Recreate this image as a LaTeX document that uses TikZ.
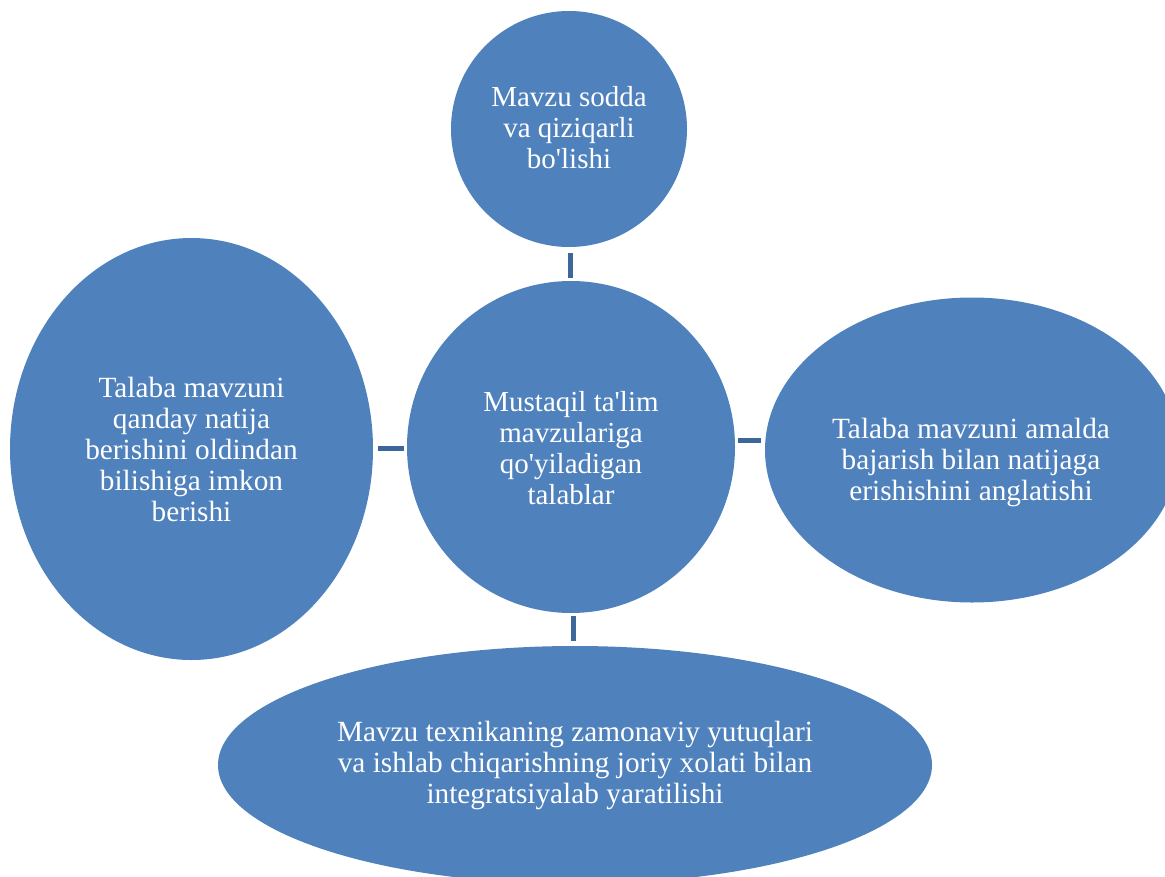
\documentclass[tikz,border=0pt]{standalone}
\usepackage{fontspec}
\setmainfont{Liberation Serif}
\usetikzlibrary{shapes.geometric,calc}
\definecolor{shapeblue}{HTML}{4F81BD}
\definecolor{linkblue}{HTML}{3D6699}
\newcommand{\apo}{\textquotesingle}
\tikzset{
  blob/.style={ellipse, fill=shapeblue, draw=none, inner sep=0pt},
  lbl/.style={text=white, align=center, font=\fontsize{29.3}{31}\selectfont, inner sep=0pt},
  lblsmall/.style={lbl, font=\fontsize{29}{31}\selectfont},
  link/.style={draw=linkblue, line width=5pt}
}
\begin{document}
\begin{tikzpicture}[x=1pt,y=-1pt]
\useasboundingbox (0,0) rectangle (1165,876);
\clip (0,0) rectangle (1165,876);
\node[blob, minimum width=236pt, minimum height=236pt] (top) at (569,129) {};
\node[blob, minimum width=328pt, minimum height=332pt] (center) at (571,447) {};
\node[blob, minimum width=363pt, minimum height=422pt] (left) at (191.5,449) {};
\node[blob, minimum width=414pt, minimum height=305pt] (right) at (972,450) {};
\node[blob, minimum width=714pt, minimum height=238pt] (bottom) at (575,765) {};

\node[lblsmall] (ttop) at ([yshift=1pt]top.center) {Mavzu sodda\\va qiziqarli\\bo\apo lishi};
\node[lblsmall] (tcenter) at ([yshift=-1pt]center.center) {Mustaqil ta\apo lim\\mavzulariga\\qo\apo yiladigan\\talablar};
\node[lbl] (tleft) at ([yshift=0pt]left.center) {Talaba mavzuni\\qanday natija\\berishini oldindan\\bilishiga imkon\\berishi};
\node[lbl] (tright) at ([xshift=-1pt,yshift=-12pt]right.center) {Talaba mavzuni amalda\\bajarish bilan natijaga\\erishishini anglatishi};
\node[lbl] (tbottom) at ([yshift=0pt]bottom.center) {Mavzu texnikaning zamonaviy yutuqlari\\va ishlab chiqarishning joriy xolati bilan\\integratsiyalab yaratilishi};

\coordinate (tm) at ($(top.south)!.5!(center.north)$);
\coordinate (bm) at ($(center.south)!.5!(bottom.north)$);
\coordinate (lm) at ($(left.east)!.5!(center.west)$);
\coordinate (rm) at ($(center.2)!.5!(right.177)$);
\draw[link, shorten <=6pt, shorten >=3pt] (tm |- top.south) -- (tm |- center.north);
\draw[link, shorten <=5pt, shorten >=3pt] (lm -| left.east) -- (lm -| center.west);
\draw[link, shorten <=3pt, shorten >=4pt] (rm -| center.east) -- (rm -| right.west);
\draw[link, shorten <=3pt, shorten >=5pt] (bm |- center.south) -- (bm |- bottom.north);
\end{tikzpicture}
\end{document}
